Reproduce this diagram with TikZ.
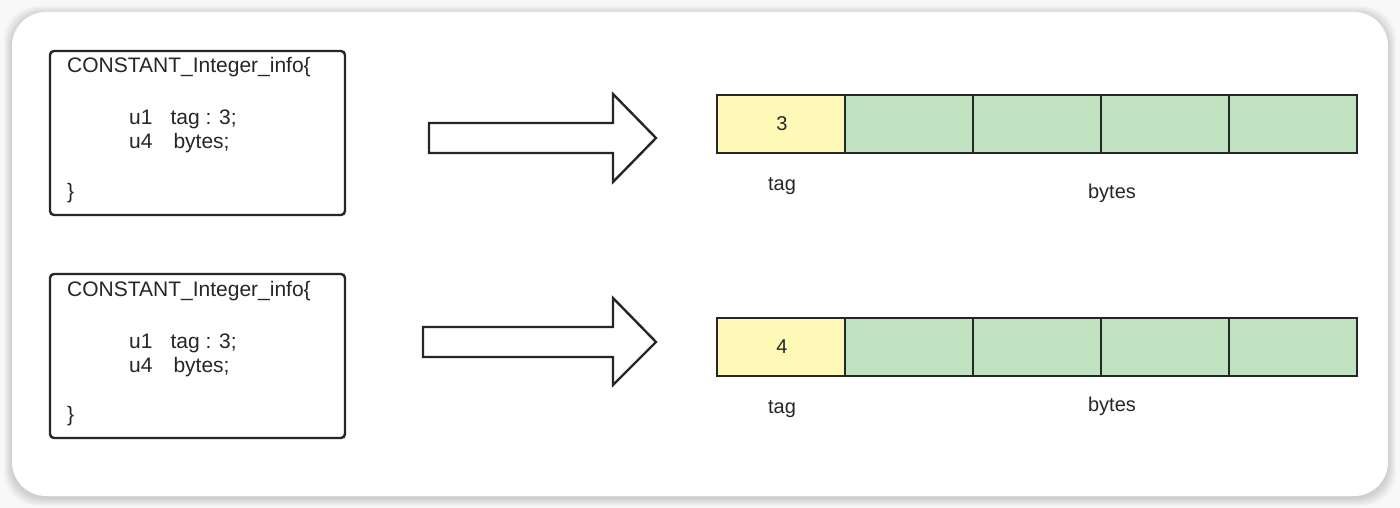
\documentclass[tikz,border=0pt]{standalone}
\usepackage{fontspec}
\setmainfont{Liberation Sans}
\begin{document}
\begin{tikzpicture}[x=1pt,y=-1pt,
  codebox/.style={draw=black!85,line width=2.4pt,rounded corners=4pt},
  codetext/.style={anchor=base west,inner sep=0pt,font=\fontsize{21}{25}\selectfont,text=black!85},
  fatarrow/.style={draw=black!85,line width=2.4pt,fill=white,line join=miter},
  tagcell/.style={draw=black!85,line width=2.4pt,fill=tagyellow},
  bytecell/.style={draw=black!85,line width=2.4pt,fill=bytegreen},
  celltext/.style={inner sep=0pt,font=\fontsize{20}{24}\selectfont,text=black!85},
  lbltext/.style={inner sep=0pt,font=\fontsize{20}{24}\selectfont,text=black!85}]
\definecolor{tagyellow}{RGB}{255,249,184}
\definecolor{bytegreen}{RGB}{192,226,192}
\definecolor{pagebg}{RGB}{248,248,248}
\useasboundingbox (0,0) rectangle (1400,508);
% page and card with soft shadow
\fill[pagebg] (0,0) rectangle (1400,508);
\foreach \s in {8,7,6,5,4,3,2,1}{
  \fill[black,opacity=0.018,rounded corners=34pt] (12-\s,12-\s+2) rectangle (1388+\s,496+\s+2);
}
\fill[white,rounded corners=34pt] (12,12) rectangle (1388,496);

% structure listings
\foreach \y/\n in {0/a,223/b}{
  \draw[codebox] (50,51+\y) rectangle (345,215+\y);
  \node[codetext] (title\n) at (67,73+\y) {CONSTANT\_Integer\_info\{};
  \node[codetext] (tag\n) at (129,125+\y) {u1\hspace{18pt}tag : 3;};
  \node[codetext] (bytes\n) at (129,149+\y) {u4\hspace{21pt}bytes;};
  \node[codetext] (close\n) at (67,198+\y) {\}};
}

% block arrows
\draw[fatarrow] (429,123) -- (613,123) -- (613,94) -- (656,138) -- (613,182) -- (613,153) -- (429,153) -- cycle;
\draw[fatarrow] (423,327) -- (613,327) -- (613,298) -- (656,342) -- (613,385) -- (613,357) -- (423,357) -- cycle;

% byte layouts
\foreach \y/\v/\n in {0/3/a,223/4/b}{
  \draw[tagcell] (717,95+\y) rectangle (845,153+\y);
  \foreach \i in {0,1,2,3}{
    \draw[bytecell] (845+128*\i,95+\y) rectangle (973+128*\i,153+\y);
  }
  \node[celltext] (val\n) at (782,124+\y) {\v};
}
\node[lbltext] (taglbla) at (782,186) {tag};
\node[lbltext] (byteslbla) at (1112,193) {bytes};
\node[lbltext] (taglblb) at (782,409) {tag};
\node[lbltext] (byteslblb) at (1112,406) {bytes};
\end{tikzpicture}
\end{document}
